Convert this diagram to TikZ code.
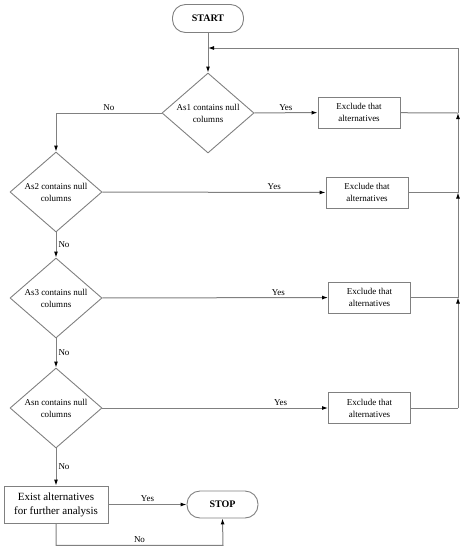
\documentclass[tikz,border=0pt]{standalone}
\usepackage{fontspec}
\setmainfont{Liberation Serif}
\usetikzlibrary{shapes.geometric,arrows.meta}

\begin{document}
\begin{tikzpicture}
  \begin{scope}[x=1pt,y=-1pt,every node/.style={font=\fontsize{9}{12}\selectfont,align=center},
    wire/.style={draw=gray,line width=1pt},
    flow/.style={wire,-{Latex[black,length=6pt,width=4pt]}},
    box/.style={rectangle,draw=gray,line width=.9pt,minimum width=82pt,minimum height=31pt,inner sep=0pt},
    term/.style={rectangle,rounded corners=13pt,draw=gray,line width=.9pt,minimum width=71pt,minimum height=28pt,font=\bfseries\fontsize{10}{12}\selectfont},
    test/.style={diamond,draw=gray,line width=.9pt,minimum width=92pt,minimum height=80pt,inner sep=0pt},
    lbl/.style={inner sep=2pt}]
    % \draw[help lines,step=10] (0,0) grid (464,550);
    \useasboundingbox (0,0) rectangle (464,550);
    \node[term] (start) at (208,18.5) {START};

    \node[test] (d1) at (208,113) {};
    \node (d1t) at (d1) {As1 contains null\\columns};
    \node[test] (d2) at (56,192) {};
    \node (d2t) at (d2) {As2 contains null\\columns};
    \node[test] (d3) at (56,298) {};
    \node (d3t) at (d3) {As3 contains null\\columns};
    \node[test] (d4) at (56,408) {};
    \node (d4t) at (d4) {Asn contains null\\columns};

    \node[box] (x1) at (359,112.5) {Exclude that\\alternatives};
    \node[box] (x2) at (367,192.5) {Exclude that\\alternatives};
    \node[box] (x3) at (369.5,297.5) {Exclude that\\alternatives};
    \node[box] (x4) at (369.5,408) {Exclude that\\alternatives};

    \node[box,minimum width=104pt,minimum height=37pt,font=\fontsize{11}{14}\selectfont] (exist) at (56,504.5) {Exist alternatives\\for further analysis};
    \node[term,minimum height=27pt] (stop) at (222.5,504.5) {STOP};

    % return line on the right
    \coordinate (j1) at (458,113);
    \coordinate (j2) at (458,192.5);
    \coordinate (j3) at (458,297.5);
    \coordinate (j4) at (458,408);
    \coordinate (jt) at (458,48);
    \coordinate (jm) at (208,48);

    \draw[flow] (start) -- (d1);
    \draw[flow] (jt) -- (jm);

    \draw[flow] (d1) -- node[lbl,midway,above]{Yes} (x1);
    \draw[flow] (d1.west) -- node[lbl,midway,above]{No} (d1.west -| d2.north) -- (d2.north);
    \draw[flow] (d2) -- node[lbl,pos=.77,above]{Yes} (x2);
    \draw[flow] (d2) -- node[lbl,midway,right]{No} (d3);
    \draw[flow] (d3) -- node[lbl,pos=.78,above]{Yes} (x3);
    \draw[flow] (d3) -- node[lbl,midway,right]{No} (d4);
    \draw[flow] (d4) -- node[lbl,pos=.79,above]{Yes} (x4);
    \draw[flow] (d4) -- node[lbl,midway,right]{No} (exist);

    \draw[wire] (x1) -- (j1);
    \draw[wire] (x2) -- (j2);
    \draw[wire] (x3) -- (j3);
    \draw[wire] (x4) -- (j4);
    \draw[flow] (j4) -- (j3);
    \draw[flow] (j3) -- (j2);
    \draw[flow] (j2) -- (j1);
    \draw[wire] (j1) -- (jt);

    \draw[flow] (exist) -- node[lbl,midway,above]{Yes} (stop);
    \draw[flow] (exist.south) -- ++(0,22) -- node[lbl,midway,above]{No} ++(167,0) -- (stop.south);
  \end{scope}
\end{tikzpicture}
\end{document}
